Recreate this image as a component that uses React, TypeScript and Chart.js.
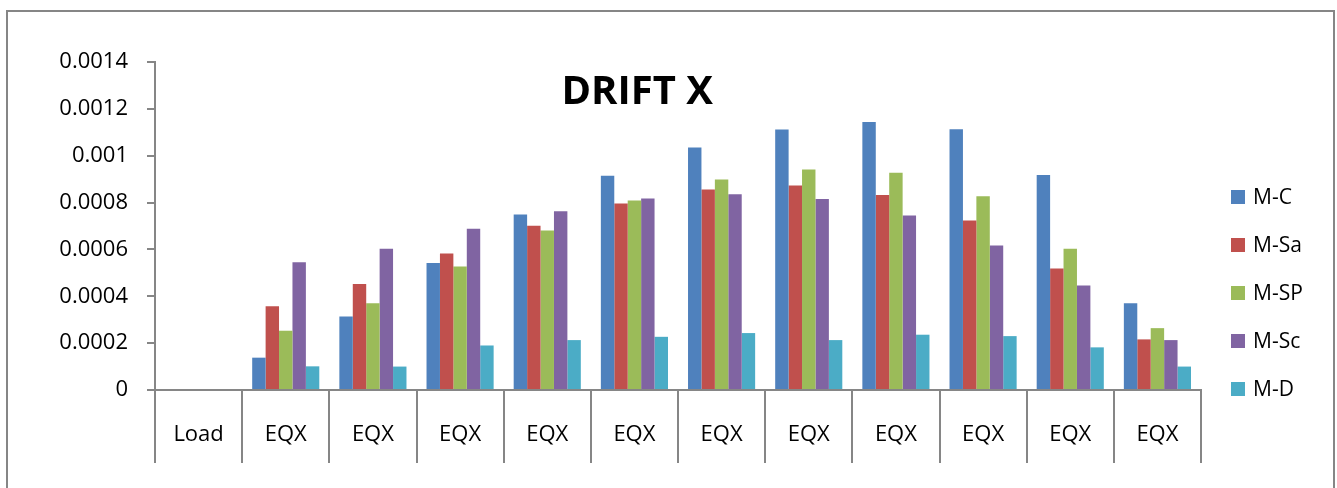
import React, { useEffect, useRef } from 'react';
import { Chart, registerables } from 'chart.js';

Chart.register(...registerables);

const chartTitle = 'DRIFT X';
const categories = ['Load', 'EQX', 'EQX', 'EQX', 'EQX', 'EQX', 'EQX', 'EQX', 'EQX', 'EQX', 'EQX', 'EQX'];
const seriesNames = ['M-C', 'M-Sa', 'M-SP', 'M-Sc', 'M-D'];
const seriesColors = ['#4F81BD', '#C0504D', '#9BBB59', '#8064A2', '#4BACC6'];

const mC = [0, 0.000138, 0.000314, 0.000542, 0.000749, 0.000914, 0.001035, 0.001112, 0.001144, 0.001113, 0.000918, 0.00037];
const mSa = [0, 0.000358, 0.000452, 0.000583, 0.000701, 0.000796, 0.000856, 0.000873, 0.000832, 0.000724, 0.000519, 0.000216];
const mSP = [0, 0.000253, 0.00037, 0.000527, 0.000681, 0.000809, 0.000898, 0.000941, 0.000927, 0.000827, 0.000603, 0.000264];
const mSc = [0, 0.000545, 0.000603, 0.000688, 0.000763, 0.000817, 0.000836, 0.000815, 0.000745, 0.000617, 0.000446, 0.000213];
const mD = [0, 0.000101, 0.0001, 0.00019, 0.000213, 0.000227, 0.000243, 0.000213, 0.000236, 0.00023, 0.000182, 0.0001];

const yMin = 0;
const yMax = 0.0014;
const yStep = 0.0002;

const FONT = "'Open Sans', 'DejaVu Sans', sans-serif";
const AXIS_GRAY = '#868686';

const titlePlugin = {
  id: 'overlayTitle',
  afterDraw(chart: any) {
    const { ctx, chartArea } = chart;
    ctx.save();
    ctx.font = `bold 40px ${FONT}`;
    ctx.fillStyle = '#000';
    ctx.textAlign = 'center';
    ctx.textBaseline = 'middle';
    ctx.fillText(chartTitle, chartArea.left + (chartArea.right - chartArea.left) * 0.461, chartArea.top + 31);
    ctx.restore();
  },
};

const legendPlugin = {
  id: 'sideLegend',
  afterDraw(chart: any) {
    const { ctx, chartArea } = chart;
    ctx.save();
    ctx.font = `21px ${FONT}`;
    ctx.textAlign = 'left';
    ctx.textBaseline = 'middle';
    chart.data.datasets.forEach((ds: any, i: number) => {
      const cy = chartArea.top + 135 + i * 48;
      const bx = chartArea.right + 30;
      ctx.fillStyle = ds.backgroundColor;
      ctx.fillRect(bx, cy - 7, 14, 14);
      ctx.fillStyle = '#000';
      ctx.fillText(ds.label, bx + 22, cy + 1);
    });
    ctx.restore();
  },
};

export default function App() {
  const canvasRef = useRef<HTMLCanvasElement | null>(null);

  useEffect(() => {
    if (!canvasRef.current) return;
    const values = [mC, mSa, mSP, mSc, mD];
    const chart = new Chart(canvasRef.current, {
      type: 'bar',
      data: {
        labels: categories,
        datasets: seriesNames.map((name, i) => ({
          label: name,
          data: values[i],
          backgroundColor: seriesColors[i],
          borderWidth: 0,
          categoryPercentage: 0.77,
          barPercentage: 1.0,
        })),
      },
      options: {
        animation: false,
        responsive: true,
        maintainAspectRatio: false,
        layout: { padding: { top: 50, left: 0, right: 132, bottom: 0 } },
        plugins: {
          legend: { display: false },
          title: { display: false },
          tooltip: { enabled: false },
        },
        scales: {
          x: {
            grid: {
              display: true,
              offset: true,
              drawOnChartArea: false,
              drawTicks: true,
              tickLength: 73,
              color: AXIS_GRAY,
              lineWidth: 2,
            },
            border: { display: true, color: AXIS_GRAY, width: 2 },
            ticks: {
              color: '#000',
              font: { family: FONT, size: 22 },
              padding: -41,
              maxRotation: 0,
              autoSkip: false,
            },
            afterFit(scale: any) {
              scale.height = 98;
            },
          },
          y: {
            min: yMin,
            max: yMax,
            grid: {
              display: true,
              drawOnChartArea: false,
              drawTicks: true,
              tickLength: 8,
              color: AXIS_GRAY,
              lineWidth: 2,
            },
            border: { display: true, color: AXIS_GRAY, width: 2 },
            ticks: {
              stepSize: yStep,
              color: '#000',
              font: { family: FONT, size: 22 },
              padding: 19,
              callback: (v: any) => String(+Number(v).toFixed(4)),
            },
            afterFit(scale: any) {
              scale.width = 147;
            },
          },
        },
      },
      plugins: [titlePlugin, legendPlugin],
    });
    return () => chart.destroy();
  }, []);

  return (
    <div
      style={{
        position: 'absolute',
        left: 6,
        top: 10,
        width: 1329,
        height: 478,
        border: `2px solid ${AXIS_GRAY}`,
        borderBottom: 'none',
        boxSizing: 'border-box',
        overflow: 'hidden',
        background: '#fff',
      }}
    >
      <div style={{ position: 'relative', width: 1325, height: 476 }}>
        <canvas ref={canvasRef} />
      </div>
    </div>
  );
}
